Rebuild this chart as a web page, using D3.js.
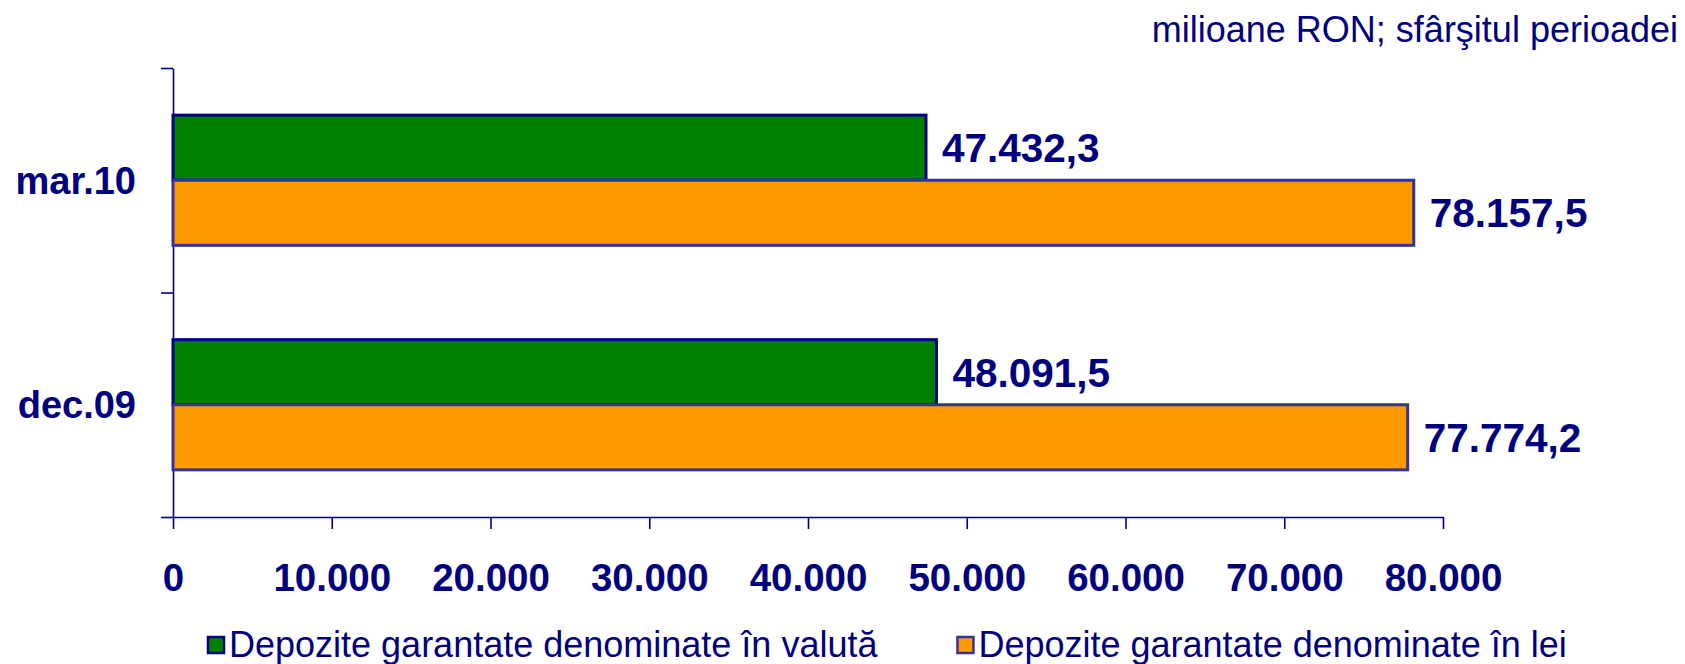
<!DOCTYPE html>
<html>
<head>
<meta charset="utf-8">
<script src="https://cdn.jsdelivr.net/npm/d3@7"></script>
<style>
  html, body { margin: 0; padding: 0; background: #fff; }
  svg { display: block; font-family: "Liberation Sans", Arial, sans-serif; }
  .axis path, .axis line { stroke: #000080; stroke-width: 1.6; }
</style>
</head>
<body>
<div id="chart"></div>
<script>
// categories, top to bottom
const categories = ['mar.10', 'dec.09'];
const seriesNames = ['Depozite garantate denominate în valută', 'Depozite garantate denominate în lei'];
const valutaValues = [47432.3, 48091.5];
const leiValues = [78157.5, 77774.2];
const xTicks = [0, 10000, 20000, 30000, 40000, 50000, 60000, 70000, 80000];
const unitLabel = 'milioane RON; sfârşitul perioadei';

const fills = ['#008000', '#FF9900'];
const strokes = ['#000080', '#333399'];
const navy = '#000080';

const width = 1685, height = 664;
const margin = {top: 68, right: 242, bottom: 147, left: 173};
const innerW = width - margin.left - margin.right;
const innerH = height - margin.top - margin.bottom;

const roLocale = d3.formatLocale({decimal: ',', thousands: '.', grouping: [3], currency: ['', '']});
const fmtTick = roLocale.format(',.0f');
const fmtValue = roLocale.format(',.1f');

const svg = d3.select('#chart').append('svg')
  .attr('width', width)
  .attr('height', height);

const g = svg.append('g')
  .attr('transform', `translate(${margin.left}, ${margin.top})`);

const x = d3.scaleLinear().domain([0, 80000]).range([0, innerW]);
const y = d3.scaleBand().domain(categories).range([0, innerH]).paddingInner(0.42).paddingOuter(0.21);
const ySub = d3.scaleBand().domain([0, 1]).range([0, y.bandwidth()]);

// y axis with ticks between categories
const yEdges = d3.scaleLinear().domain([0, categories.length]).range([0, innerH]);
g.append('g')
  .attr('class', 'axis')
  .call(d3.axisLeft(yEdges).tickValues(d3.range(categories.length + 1)).tickFormat('').tickSize(12).tickSizeOuter(0));

// x axis
const xAxis = g.append('g')
  .attr('class', 'axis')
  .attr('transform', `translate(0, ${innerH})`)
  .call(d3.axisBottom(x).tickValues(xTicks).tickFormat(fmtTick).tickSize(12).tickSizeOuter(0).tickPadding(35));
xAxis.selectAll('text')
  .attr('fill', navy)
  .style('font-size', '38.5px')
  .style('font-weight', 'bold');

// category labels
g.selectAll('.cat')
  .data(categories)
  .join('text')
  .attr('class', 'cat')
  .attr('x', -37)
  .attr('y', d => y(d) + y.bandwidth() / 2)
  .attr('dy', '0.36em')
  .attr('text-anchor', 'end')
  .attr('fill', navy)
  .style('font-size', '38px')
  .style('font-weight', 'bold')
  .text(d => d);

// bars
const series = [valutaValues, leiValues];
series.forEach((vals, s) => {
  g.selectAll(`.bar-${s}`)
    .data(vals)
    .join('rect')
    .attr('class', `bar-${s}`)
    .attr('x', x(0))
    .attr('y', (d, i) => y(categories[i]) + ySub(s))
    .attr('width', d => x(d) - x(0))
    .attr('height', ySub.bandwidth())
    .attr('fill', fills[s])
    .attr('stroke', strokes[s])
    .attr('stroke-width', 3);

  g.selectAll(`.val-${s}`)
    .data(vals)
    .join('text')
    .attr('class', `val-${s}`)
    .attr('x', d => x(d) + 16)
    .attr('y', (d, i) => y(categories[i]) + ySub(s) + ySub.bandwidth() / 2)
    .attr('dy', '0.36em')
    .attr('fill', navy)
    .style('font-size', '40.5px')
    .style('font-weight', 'bold')
    .text(d => fmtValue(d));
});

// unit label
svg.append('text')
  .attr('x', width - 7)
  .attr('y', 42)
  .attr('text-anchor', 'end')
  .attr('fill', navy)
  .style('font-size', '36px')
  .text(unitLabel);

// legend
const legend = svg.append('g').attr('transform', 'translate(207, 657)');
let lx = 0;
seriesNames.forEach((name, s) => {
  const item = legend.append('g').attr('transform', `translate(${lx}, 0)`);
  item.append('rect')
    .attr('x', 1).attr('y', -20)
    .attr('width', 16).attr('height', 16)
    .attr('fill', fills[s])
    .attr('stroke', strokes[s])
    .attr('stroke-width', 2.5);
  const t = item.append('text')
    .attr('x', 22)
    .attr('fill', navy)
    .style('font-size', '36px')
    .text(name);
  lx += 22 + t.node().getComputedTextLength() + 79;
});
</script>
</body>
</html>
